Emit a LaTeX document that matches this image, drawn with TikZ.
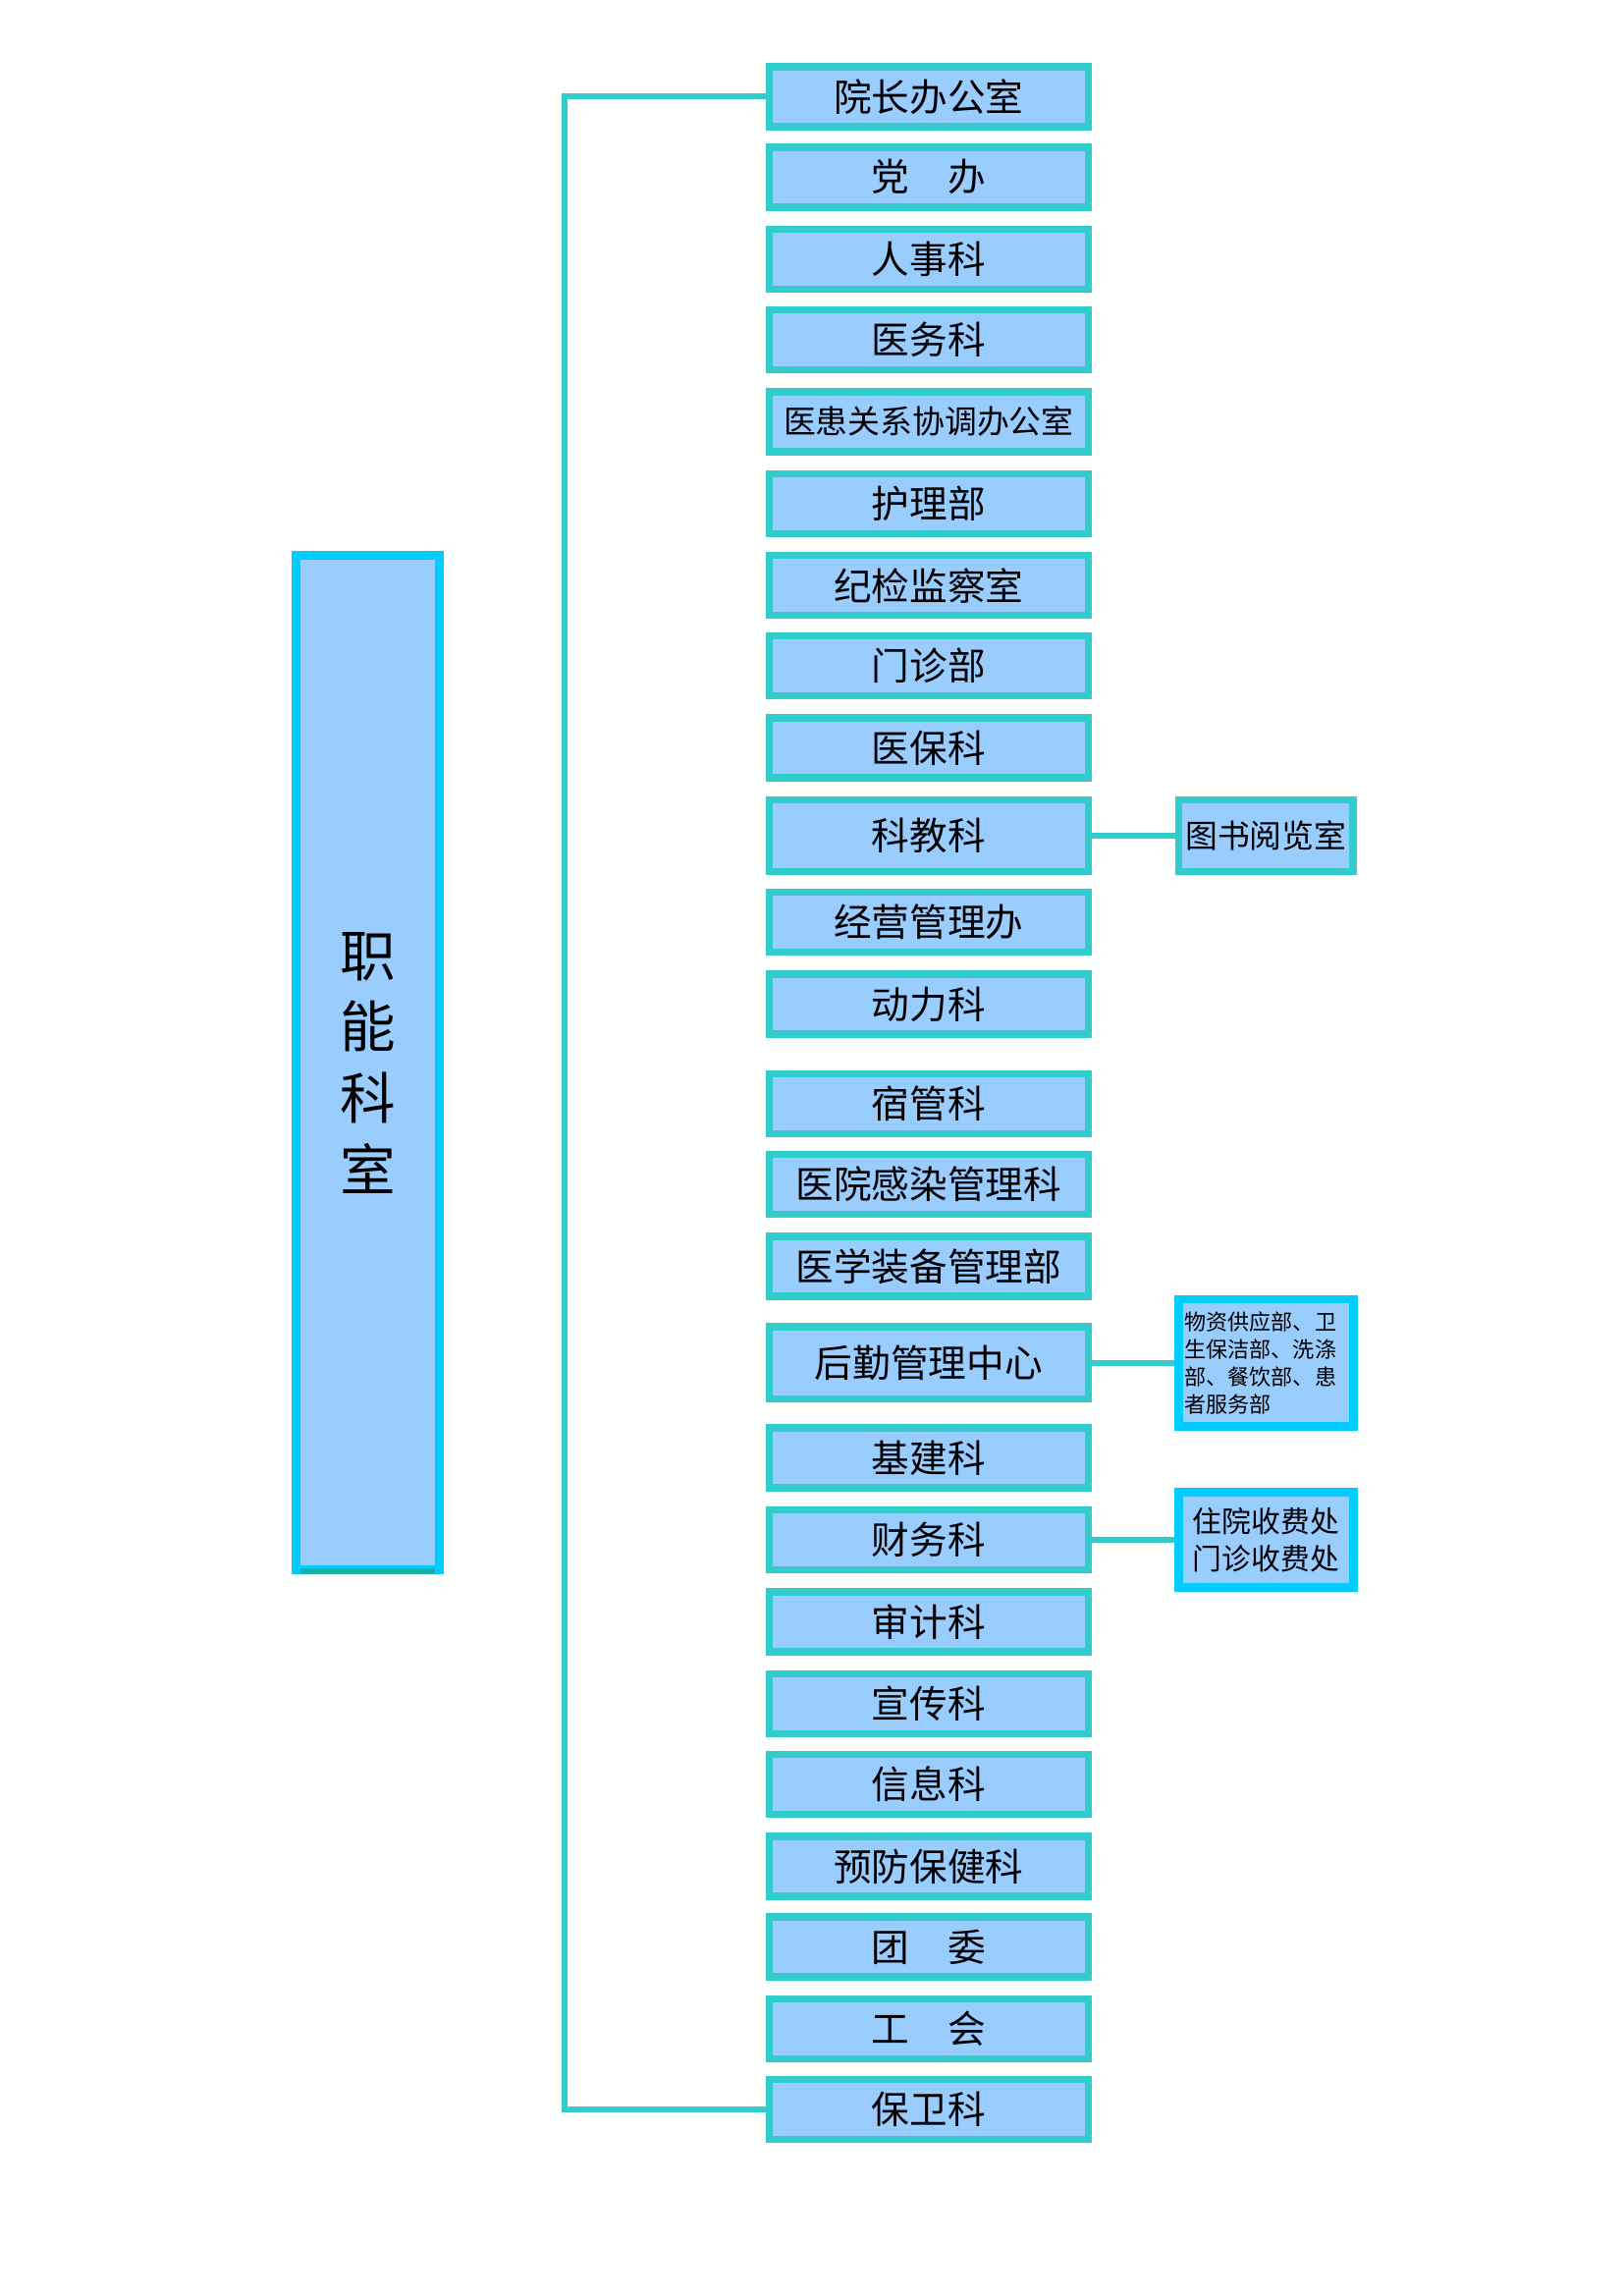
\documentclass[tikz,border=0pt]{standalone}
\usepackage{fontspec}
\newfontfamily\cjk{Noto Sans CJK SC}
\definecolor{deptline}{HTML}{33CCCC}
\definecolor{deptfill}{HTML}{99CCFF}
\definecolor{headline}{HTML}{00CCFF}
\definecolor{headbase}{HTML}{18AFA8}

\begin{document}
\begin{tikzpicture}[x=0.5402pt, y=-0.5402pt, font=\cjk,
  dept/.style={draw=deptline, fill=deptfill, line width=2.7pt, inner sep=0pt,
    minimum width=117.8pt, minimum height=22.1pt,
    font={\cjk\fontsize{14pt}{16pt}\selectfont}},
  tall/.style={minimum height=26.5pt},
  subunit/.style={draw=headline, fill=deptfill, line width=3.2pt, inner sep=0pt,
    minimum width=64.3pt},
  link/.style={draw=deptline, line width=2.2pt}]

% page size (A4 at the reference scale)
\useasboundingbox (0,0) rectangle (1109,1568.5);

% x centre of the department column
\def\xDept{634.5}
% x centre of the side boxes
\def\xSide{865}

%--- Head box on the left
\node[subunit, minimum width=52.9pt, minimum height=374.4pt, align=center,
  font={\cjk\fontsize{20.5pt}{26.3pt}\selectfont}] (head) at (251.5,726) {职\\能\\科\\室};
% darker bottom edge (anchors sit on the outer side of the border)
\draw[draw=headbase, line width=2.2pt] ([xshift=3.2pt, yshift=1.1pt]head.south west)
  -- ([xshift=-3.2pt, yshift=1.1pt]head.south east);

%--- Departments
\node[dept] (yzb) at (\xDept,66) {院长办公室};
\node[dept] (db) at (\xDept,121) {党\hspace{1em}办};
\node[dept] (rsk) at (\xDept,177) {人事科};
\node[dept] (ywk) at (\xDept,232) {医务科};
\node[dept, font={\cjk\fontsize{11.9pt}{14pt}\selectfont}] (yhgx) at (\xDept,288) {医患关系协调办公室};
\node[dept] (hlb) at (\xDept,344) {护理部};
\node[dept] (jjjc) at (\xDept,400) {纪检监察室};
\node[dept] (mzb) at (\xDept,455) {门诊部};
\node[dept] (ybk) at (\xDept,511) {医保科};
\node[dept, tall] (kjk) at (\xDept,571) {科教科};
\node[dept] (jygl) at (\xDept,630) {经营管理办};
\node[dept] (dlk) at (\xDept,686) {动力科};
\node[dept] (sgk) at (\xDept,754) {宿管科};
\node[dept] (ygk) at (\xDept,809) {医院感染管理科};
\node[dept] (yxzb) at (\xDept,865) {医学装备管理部};
\node[dept, tall] (hqgl) at (\xDept,931) {后勤管理中心};
\node[dept] (jjk) at (\xDept,996) {基建科};
\node[dept] (cwk) at (\xDept,1052) {财务科};
\node[dept] (sjk) at (\xDept,1108) {审计科};
\node[dept] (xck) at (\xDept,1164) {宣传科};
\node[dept] (xxk) at (\xDept,1219) {信息科};
\node[dept] (yfbj) at (\xDept,1275) {预防保健科};
\node[dept] (tw) at (\xDept,1330) {团\hspace{1em}委};
\node[dept] (gh) at (\xDept,1386) {工\hspace{1em}会};
\node[dept] (bwk) at (\xDept,1441) {保卫科};

%--- Side boxes
\node[dept, minimum width=64.3pt, tall, font={\cjk\fontsize{11.9pt}{14pt}\selectfont}] (tsyl) at (\xSide,571) {图书阅览室};
\node[subunit, minimum height=47pt, text width=60pt, align=left,
  font={\cjk\fontsize{8pt}{10.1pt}\selectfont}] (hqsub) at (\xSide,931)
  {物资供应部、卫\\生保洁部、洗涤\\部、餐饮部、患\\者服务部};
\node[subunit, minimum height=35.1pt, align=center,
  font={\cjk\fontsize{10.8pt}{13.5pt}\selectfont}] (sfc) at (\xSide,1052) {住院收费处\\门诊收费处};

%--- Connectors
\coordinate (spine) at (386,700);
\draw[link] (yzb.west) -| (spine) |- (bwk.west);
\draw[link] (kjk.east) -- (tsyl.west);
\draw[link] (hqgl.east) -- (hqsub.west);
\draw[link] (cwk.east) -- (sfc.west);

\end{tikzpicture}
\end{document}
